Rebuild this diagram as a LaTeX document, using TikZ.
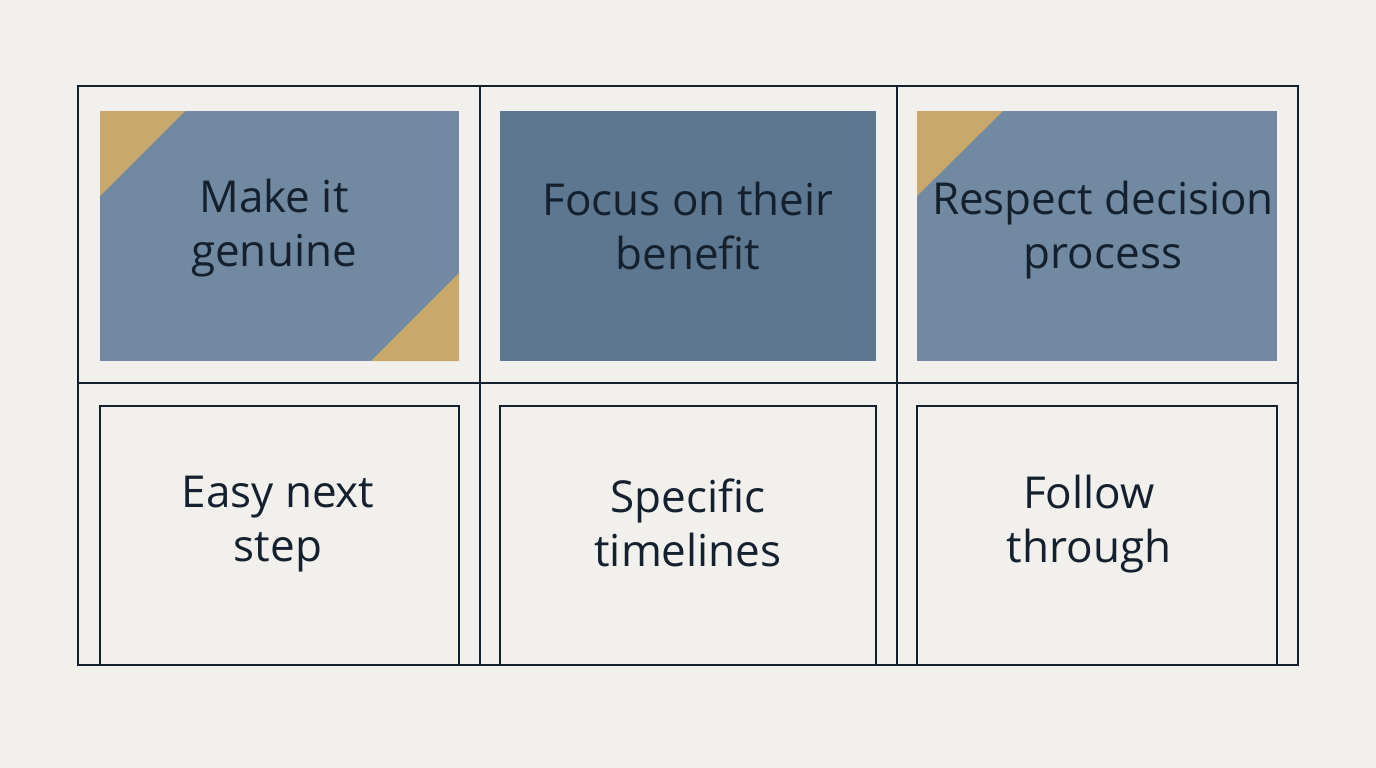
\documentclass[tikz,border=0pt]{standalone}
\usepackage{fontspec}
\setmainfont{Open Sans}
\begin{document}
\begin{tikzpicture}[x=1pt,y=-1pt]
\definecolor{bg}{HTML}{F1F0EC}
\definecolor{steel}{HTML}{7189A1}
\definecolor{steeld}{HTML}{5D7790}
\definecolor{gold}{HTML}{C9A86C}
\definecolor{ink}{HTML}{14202E}
\fill[bg] (0,0) rectangle (1376,768);
\useasboundingbox (0,0) rectangle (1376,768);
\tikzset{frame/.style={draw=ink,line width=2pt}, lbl/.style={font=\fontsize{44}{54}\selectfont,text=ink,align=center}}
% top boxes
\fill[steel] (100,111) rectangle (459,361);
\fill[steeld] (500,111) rectangle (876,361);
\fill[steel] (917,111) rectangle (1277,361);
\fill[gold] (100,111) -- (185,111) -- (100,196) -- cycle;
\fill[gold] (459,273) -- (459,361) -- (371,361) -- cycle;
\fill[gold] (917,111) -- (1003,111) -- (917,196) -- cycle;
% grid
\draw[frame] (78,86) rectangle (1298,665);
\draw[frame] (480,86) -- (480,665);
\draw[frame] (897,86) -- (897,665);
\draw[frame] (78,383) -- (1298,383);
% bottom boxes
\draw[frame] (100,406) rectangle (459,665);
\draw[frame] (500,406) rectangle (876,665);
\draw[frame] (917,406) rectangle (1277,665);
% labels
\node[lbl] (t1) at (274,228) {Make it\\genuine};
\node[lbl] (t2) at (688,226) {Focus on their\\benefit};
\node[lbl] (t3) at (1103,230) {Respect decision\\process};
\node[lbl] (b1) at (278,524) {Easy next\\step};
\node[lbl] (b2) at (688,523) {Specific\\timelines};
\node[lbl] (b3) at (1089,524) {Follow\\through};
\end{tikzpicture}
\end{document}
